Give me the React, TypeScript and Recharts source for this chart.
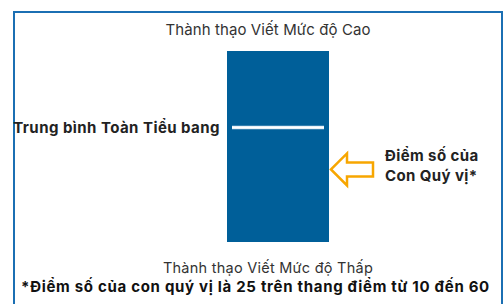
import React from 'react';
import { ComposedChart, Bar, Scatter, XAxis, YAxis } from 'recharts';

// scale of the writing score
const scaleMin = 10;
const scaleMax = 60;
const categories = ['Viết'];
const stateAverage = [40];
const arrowLevel = [29]; // where the arrow sits in the picture
const studentScore = 25;

const topLabel = 'Thành thạo Viết Mức độ Cao';
const bottomLabel = 'Thành thạo Viết Mức độ Thấp';
const averageLabel = 'Trung bình Toàn Tiểu bang';
const scoreLabel = ['Điểm số của', 'Con Quý vị*'];
const footnote = `*Điểm số của con quý vị là ${studentScore} trên thang điểm từ ${scaleMin} đến ${scaleMax}`;

const FONT = 'Inter, "Noto Sans", sans-serif';

const barData = categories.map((c) => ({ cat: c, range: [scaleMin, scaleMax] }));
const avgData = categories.map((c, i) => ({ cat: c, value: stateAverage[i] }));
const arrowData = categories.map((c, i) => ({ cat: c, value: arrowLevel[i] }));

const AvgMark = (props: any) => {
  const { cx, cy } = props;
  return (
    <g>
      <line x1={cx - 46} x2={cx + 46} y1={cy} y2={cy} stroke="#cfe3f2" strokeWidth={3.5} />
      <line x1={cx - 46} x2={cx + 46} y1={cy} y2={cy} stroke="#ffffff" strokeWidth={2} />
      <text x={cx - 58} y={cy + 5.5} textAnchor="end" fontFamily={FONT} fontWeight={700} fontSize={15} letterSpacing={0.45} fill="#222">
        {averageLabel}
      </text>
    </g>
  );
};

const ArrowMark = (props: any) => {
  const { cx, cy } = props;
  const tx = cx + 53;
  const pts = [
    [0, 0], [16, -16], [16, -7], [42, -7], [42, 7], [16, 7], [16, 16],
  ].map(([x, y]) => `${tx + x},${cy + y}`).join(' ');
  return (
    <g>
      <polygon points={pts} fill="#fff" stroke="#f7a600" strokeWidth={2.5} strokeLinejoin="miter" />
      <text fontFamily={FONT} fontWeight={700} fontSize={15} letterSpacing={0.4} fill="#222">
        <tspan x={tx + 54} y={cy - 8}>{scoreLabel[0]}</tspan>
        <tspan x={tx + 54} y={cy + 12}>{scoreLabel[1]}</tspan>
      </text>
    </g>
  );
};

export default function App() {
  return (
    <div style={{ position: 'fixed', left: 0, top: 0, width: 504, height: 304, overflow: 'hidden', background: '#fff', fontFamily: FONT }}>
      <div style={{ position: 'absolute', left: 13, top: 11, width: 490, height: 320, border: '2.5px solid #1b6fb3', boxSizing: 'border-box' }} />
      <div style={{ position: 'absolute', left: 0, top: 0 }}>
        <ComposedChart width={504} height={304} data={barData} margin={{ top: 51, right: 0, bottom: 62, left: 52 }}>
          <XAxis dataKey="cat" type="category" allowDuplicatedCategory={false} hide />
          <YAxis type="number" domain={[scaleMin, scaleMax]} hide />
          <Bar dataKey="range" fill="#005f99" barSize={102} isAnimationActive={false} />
          <Scatter data={avgData} dataKey="value" shape={<AvgMark />} isAnimationActive={false} />
          <Scatter data={arrowData} dataKey="value" shape={<ArrowMark />} isAnimationActive={false} />
        </ComposedChart>
      </div>
      <div style={{ position: 'absolute', left: 0, width: 536, top: 22, textAlign: 'center', fontSize: 15, letterSpacing: 0.1, color: '#333', lineHeight: '16px' }}>
        {topLabel}
      </div>
      <div style={{ position: 'absolute', left: 0, width: 536, top: 260, textAlign: 'center', fontSize: 14.5, letterSpacing: 0.25, color: '#333', lineHeight: '16px' }}>
        {bottomLabel}
      </div>
      <div style={{ position: 'absolute', left: 0, width: 511, top: 279, textAlign: 'center', fontSize: 15, fontWeight: 700, letterSpacing: 0.7, color: '#111', lineHeight: '16px', whiteSpace: 'nowrap' }}>
        {footnote}
      </div>
    </div>
  );
}
